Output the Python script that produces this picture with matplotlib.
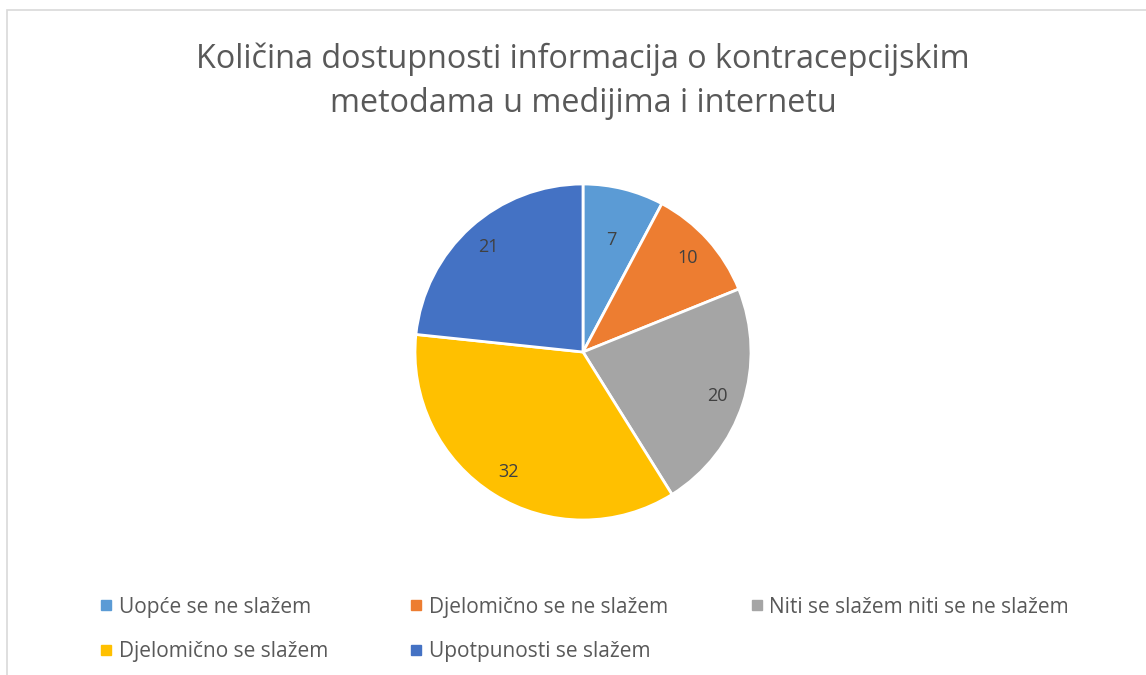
import numpy as np
import matplotlib.pyplot as plt
from matplotlib.patches import Rectangle
from matplotlib.lines import Line2D

plt.rcParams['font.family'] = ['Open Sans', 'DejaVu Sans']

categories = ["Uopće se ne slažem", "Djelomično se ne slažem",
              "Niti se slažem niti se ne slažem", "Djelomično se slažem",
              "Upotpunosti se slažem"]
values = [7, 10, 20, 32, 21]
colors = ["#5B9BD5", "#ED7D31", "#A5A5A5", "#FFC000", "#4472C4"]

W, H = 1146, 675
fig = plt.figure(figsize=(W / 100, H / 100), dpi=100)

# chart frame (light grey)
fig.patches.append(Rectangle((7 / W, -0.05), 1.1, 1 - 10 / H + 0.05, transform=fig.transFigure,
                             fill=False, edgecolor="#D9D9D9", linewidth=1.2))

fig.text(583 / W, 1 - 81 / H, "Količina dostupnosti informacija o kontracepcijskim\nmetodama u medijima i internetu",
         ha="center", va="center", fontsize=23.3, color="#595959", linespacing=1.43)

cx, cy, r = 583, 352, 168
ax = fig.add_axes([(cx - r) / W, (H - cy - r) / H, 2 * r / W, 2 * r / H])
wedges, texts = ax.pie(values, colors=colors, startangle=90, counterclock=False,
                       labels=[str(v) for v in values], labeldistance=0.84,
                       wedgeprops=dict(edgecolor="white", linewidth=2),
                       textprops=dict(fontsize=13, color="#404040"))
# small slice label sits closer to the centre (best fit)
label_dist = [0.69, 0.84, 0.84, 0.84, 0.84]
for w, t, d in zip(wedges, texts, label_dist):
    ang = np.deg2rad((w.theta1 + w.theta2) / 2)
    t.set_position((d * np.cos(ang), d * np.sin(ang)))
    t.set_ha("center")
    t.set_va("center")
ax.set_xlim(-1, 1)
ax.set_ylim(-1, 1)
ax.set_aspect("equal")

handles = [Line2D([], [], marker="s", linestyle="none", markersize=6.5, color=c) for c in colors]
order = [0, 3, 1, 4, 2]
fig.legend([handles[i] for i in order], [categories[i] for i in order], ncol=3,
           loc="upper left", bbox_to_anchor=(77 / W, 1 - 578 / H), frameon=False,
           fontsize=15, labelcolor="#595959", handletextpad=0.1, handlelength=1.0,
           columnspacing=3.75, labelspacing=1.12)

fig.savefig("out.png", dpi=100)
